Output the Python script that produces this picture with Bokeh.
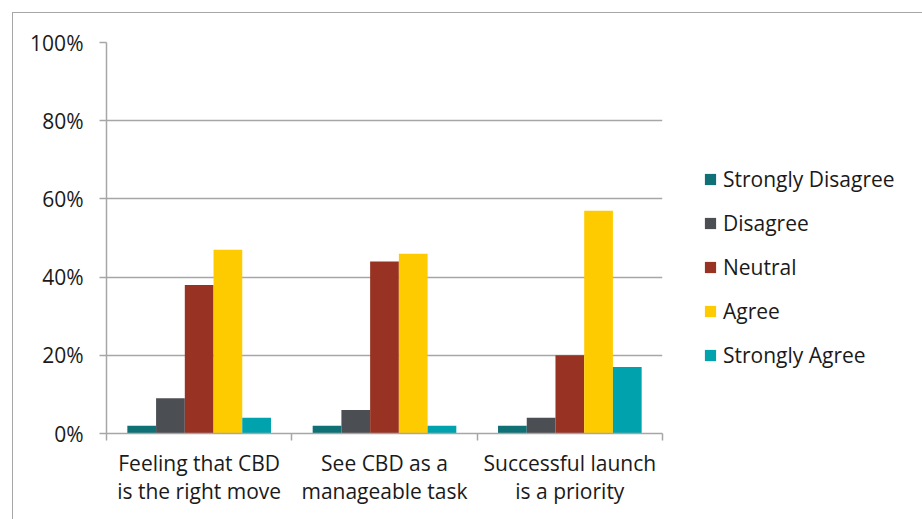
from bokeh.plotting import figure
from bokeh.models import (ColumnDataSource, Range1d, FixedTicker, PrintfTickFormatter,
                          Legend, LegendItem)
from bokeh.embed import file_html
from bokeh.resources import INLINE

categories = ["Feeling that CBD\nis the right move",
              "See CBD as a\nmanageable task",
              "Successful launch\nis a priority"]
series = ["Strongly Disagree", "Disagree", "Neutral", "Agree", "Strongly Agree"]
strongly_disagree = [2, 2, 2]
disagree = [9, 6, 4]
neutral = [38, 44, 20]
agree = [47, 46, 57]
strongly_agree = [4, 2, 17]
y_ticks = [0, 20, 40, 60, 80, 100]

values = [strongly_disagree, disagree, neutral, agree, strongly_agree]
colors = ["#0f7075", "#4b4e53", "#983223", "#fecb00", "#00a3ad"]

FONT = "Open Sans"
AX = "#a6a6a6"
TXT = "#1a1a1a"
FS = "21px"

p = figure(frame_width=556, frame_height=391, output_backend="svg", toolbar_location=None,
           x_range=Range1d(0, len(categories)), y_range=Range1d(0, 100),
           min_border_left=93, min_border_right=260, min_border_top=29,
           min_border_bottom=86)
p.margin = (12, 0, 0, 12)
p.styles = {"border-left": "1.5px solid #a6a6a6", "border-top": "1.5px solid #a6a6a6"}
p.outline_line_color = None
p.background_fill_color = "white"
p.border_fill_color = "white"

bw = 0.155
items = []
for i, (name, vals, c) in enumerate(zip(series, values, colors)):
    off = (i - 2) * bw
    src = ColumnDataSource(dict(x=[k + 0.5 + off for k in range(len(categories))], top=vals))
    r = p.vbar(x="x", top="top", width=bw, source=src, fill_color=c, line_color=None)
    items.append(LegendItem(label=name, renderers=[r]))

# x axis
xa = p.xaxis[0]
xa.ticker = FixedTicker(ticks=[k + 0.5 for k in range(len(categories))],
                        minor_ticks=list(range(len(categories) + 1)))
xa.major_label_overrides = {k + 0.5: lab for k, lab in enumerate(categories)}
xa.major_tick_line_color = None
xa.minor_tick_line_color = AX
xa.minor_tick_line_width = 1.5
xa.minor_tick_in = 0
xa.minor_tick_out = 7
xa.axis_line_color = AX
xa.axis_line_width = 1.5
xa.major_label_text_font = FONT
xa.major_label_text_font_size = FS
xa.major_label_text_color = TXT
xa.major_label_text_line_height = 1.0
xa.major_label_standoff = 8

# y axis
ya = p.yaxis[0]
ya.ticker = FixedTicker(ticks=y_ticks)
ya.formatter = PrintfTickFormatter(format="%d%%")
ya.axis_line_color = AX
ya.axis_line_width = 1.5
ya.major_tick_line_color = AX
ya.major_tick_line_width = 1.5
ya.major_tick_in = 0
ya.major_tick_out = 7
ya.minor_tick_line_color = None
ya.major_label_text_font = FONT
ya.major_label_text_font_size = FS
ya.major_label_text_color = TXT
ya.major_label_standoff = 16

p.xgrid.grid_line_color = None
p.ygrid.grid_line_color = AX
p.ygrid.grid_line_width = 1.5
p.ygrid.ticker = FixedTicker(ticks=y_ticks)

legend = Legend(items=items, location=(41, 56), padding=0, margin=0, spacing=0,
                label_height=44, glyph_height=14, glyph_width=14, label_standoff=6,
                border_line_color=None, background_fill_alpha=0,
                label_text_font=FONT, label_text_font_size=FS,
                label_text_color=TXT)
p.add_layout(legend, "right")

open("out.html", "w").write(file_html(p, INLINE))
